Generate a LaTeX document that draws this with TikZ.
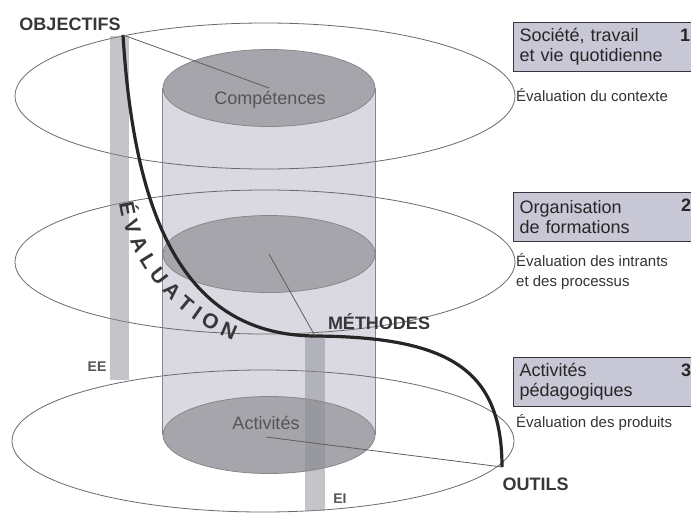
\documentclass[tikz,border=0pt]{standalone}
\usepackage{fontspec}
\setmainfont{Liberation Sans}
\usetikzlibrary{positioning,shapes.geometric,decorations.text}
\definecolor{cylgray}{RGB}{218,217,226}
\definecolor{discgray}{RGB}{166,165,171}
\definecolor{bargray}{RGB}{140,140,148}
\definecolor{boxgray}{RGB}{200,199,214}
\definecolor{inkgray}{RGB}{55,55,58}

\tikzset{
  bigring/.style={draw=inkgray!75, line width=0.8pt},
  innerdisc/.style={ellipse, draw=inkgray!60, fill=discgray, line width=0.8pt,
    minimum width=212pt, minimum height=77pt, inner sep=0pt},
  evalbar/.style={fill=bargray, fill opacity=0.5},
  evalcurve/.style={draw=black!85, line width=3.2pt},
  linkline/.style={draw=inkgray!80, line width=0.8pt},
  disclbl/.style={text=inkgray!85, font=\fontsize{18}{20}\selectfont},
  levellbl/.style={text=inkgray, font=\bfseries\fontsize{18}{20}\selectfont},
  barlbl/.style={text=inkgray!85, font=\bfseries\fontsize{14}{16}\selectfont},
  catbox/.style={draw=inkgray, fill=boxgray, line width=1pt, anchor=north west,
    text width=170pt, align=left, inner xsep=6pt, minimum height=49pt,
    text=black!85, font=\fontsize{18}{20}\selectfont},
  catnum/.style={text=black!85, font=\bfseries\fontsize{18}{20}\selectfont},
  evaltxt/.style={anchor=west, align=left, inner sep=0pt, text=black!80,
    font=\fontsize{15}{20}\selectfont}
}

\begin{document}
\begin{tikzpicture}[x=1pt,y=-1pt]
    \useasboundingbox (0,0) rectangle (691,514);

    % cylinder
    \fill[cylgray] (163,88) rectangle (375,435);

    % the three levels
    \draw[bigring] (265,96) ellipse [x radius=250, y radius=73];
    \draw[bigring] (265,262) ellipse [x radius=250, y radius=72];
    \draw[bigring] (263,441) ellipse [x radius=251, y radius=71];

    \node[innerdisc] (comp) at (269,88) {};
    \node[innerdisc] (meth) at (269,254) {};
    \node[innerdisc] (acti) at (269,435) {};
    \draw[inkgray!60, line width=0.8pt] (comp.west) -- (acti.west);
    \draw[inkgray!60, line width=0.8pt] (comp.east) -- (acti.east);

    % EE and EI bars
    \fill[evalbar] (110,36) rectangle (129,380);
    \fill[evalbar] (305,335) rectangle (325,511);

    \coordinate (objp) at (123,35);
    \coordinate (methp) at (315,336);
    \coordinate (outp) at (502,467);

    \draw[evalcurve] (objp) .. controls (135,230) and (190,335) .. (methp)
        .. controls (450,337) and (502,370) .. (outp);

    \draw[linkline] (objp) -- (comp.center);
    \draw[linkline] (meth.center) -- (methp);
    \draw[linkline] (266,437) -- (outp);

    \path[decorate, decoration={text along path,
        text={|\bfseries\fontsize{21}{21}\selectfont|ÉVALUATION},
        text color=inkgray, text align={fit to path}}]
        (119,203) .. controls (128,260) and (170,316) .. (233,340);

    % labels
    \node[disclbl] (compl) at (270,100) {Compétences};
    \node[disclbl] (actil) at (266,423) {Activités};
    \node[levellbl] (objl) at (70,24) {OBJECTIFS};
    \node[levellbl] (methl) at (379,322) {MÉTHODES};
    \node[levellbl, anchor=west] (outl) at (499,484) {OUTILS};
    \node[barlbl] (eel) at (97,367) {EE};
    \node[barlbl] (eil) at (340,499) {EI};

    % right column
    \node[catbox] (soc) at (513,22) {Société, travail\\et vie quotidienne};
    \node[catnum] (n1) at (685,35) {1};
    \node[evaltxt] (ctx) at (516,95) {Évaluation du contexte};

    \node[catbox] (org) at (513,192) {Organisation\\de formations};
    \node[catnum] (n2) at (686,205) {2};
    \node[evaltxt] (intr) at (516,272) {Évaluation des intrants\\et des processus};

    \node[catbox] (ped) at (513,357) {Activités\\pédagogiques};
    \node[catnum] (n3) at (686,370) {3};
    \node[evaltxt] (prod) at (516,423) {Évaluation des produits};
\end{tikzpicture}
\end{document}
